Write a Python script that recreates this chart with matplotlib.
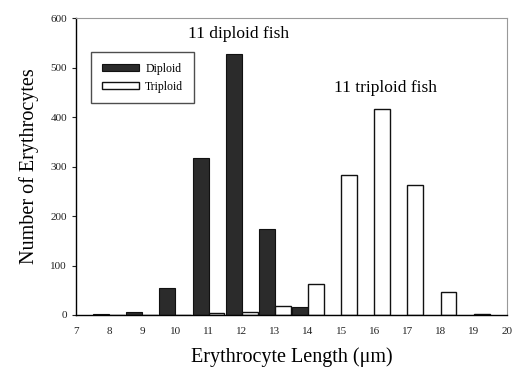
import matplotlib
matplotlib.use("Agg")
import matplotlib.pyplot as plt

lengths = [8, 9, 10, 11, 12, 13, 14, 15, 16, 17, 18, 19]
diploid = [1, 7, 55, 317, 527, 174, 17, 0, 0, 0, 0, 0]
triploid = [0, 0, 0, 3, 6, 18, 63, 283, 417, 263, 47, 2]

plt.rcParams["font.family"] = ["Liberation Serif", "DejaVu Serif"]

fig = plt.figure(figsize=(5.13, 3.77), dpi=100)
ax = fig.add_axes([0.148, 0.1645, 0.84, 0.7875])

w = 0.48
ax.bar([x - w / 2 for x in lengths], diploid, width=w, color="#2b2b2b",
       edgecolor="#111111", linewidth=0.8, label="Diploid")
ax.bar([x + w / 2 for x in lengths], triploid, width=w, color="white",
       edgecolor="#111111", linewidth=1.0, label="Triploid")

ax.set_xlim(7, 20)
ax.set_ylim(0, 600)
ax.set_xticks(range(7, 21))
ax.set_yticks(range(0, 601, 100))
ax.tick_params(axis="both", labelsize=8, length=3, width=0.8, colors="#222222")
ax.tick_params(axis="x", length=0, pad=9)

for side in ("top", "right"):
    ax.spines[side].set_color("#999999")
    ax.spines[side].set_linewidth(0.8)
for side in ("left", "bottom"):
    ax.spines[side].set_linewidth(1.0)

ax.set_xlabel("Erythrocyte Length (\u03bcm)", fontsize=14.5, labelpad=8)
ax.set_ylabel("Number of Erythrocytes", fontsize=14.5, labelpad=8)

ax.text(11.9, 568, "11 diploid fish", ha="center", va="center", fontsize=12.5)
ax.text(16.35, 458, "11 triploid fish", ha="center", va="center", fontsize=12.5)

ax.legend(loc="upper left", bbox_to_anchor=(0.035, 0.885), fontsize=8.5,
          frameon=True, fancybox=False, edgecolor="#222222",
          handlelength=3.2, handleheight=0.6, borderpad=0.9,
          handletextpad=0.5, borderaxespad=0)

fig.savefig("out.png", dpi=100)
